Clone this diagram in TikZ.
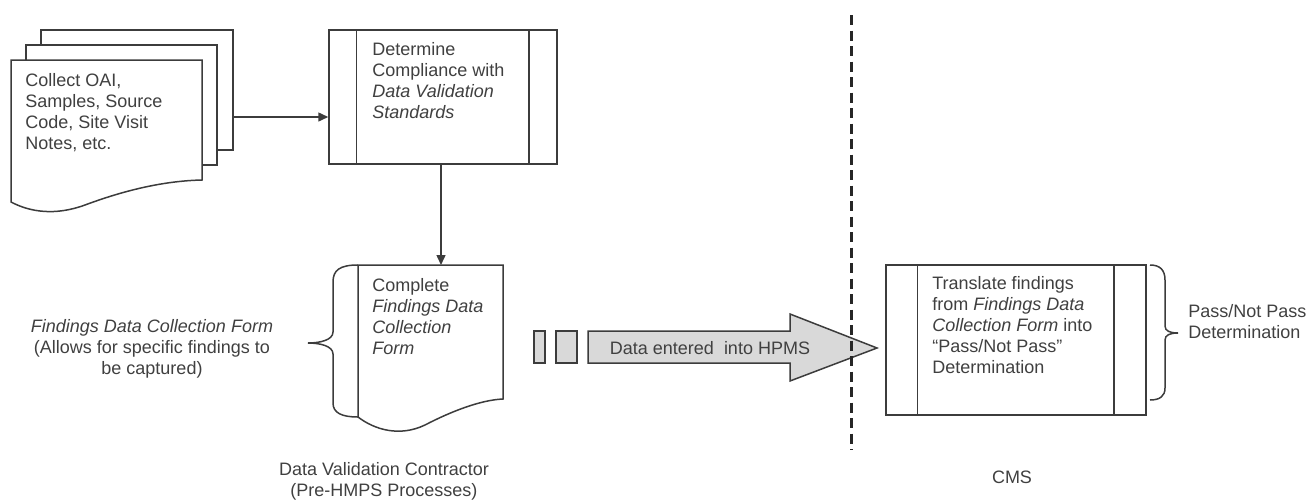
\documentclass[tikz,border=0pt]{standalone}
\usepackage{fontspec}
\setmainfont{Liberation Sans}
\usetikzlibrary{arrows.meta}
\definecolor{lc}{HTML}{3C3C3C}
\definecolor{tc}{HTML}{404040}
\definecolor{gfill}{HTML}{D9D9D9}
\begin{document}
\begin{tikzpicture}[x=0.5pt,y=-0.5pt,
  ln/.style={draw=lc, line width=0.75pt},
  txt/.style={text=tc, font=\fontsize{9}{10.5}\selectfont, inner sep=0pt, align=left},
  proc/.style={ln, fill=white, rectangle, inner sep=0pt},
  conn/.style={ln, -{Triangle[length=5pt,width=4.5pt]}},
  smallbox/.style={ln, fill=gfill, rectangle, inner sep=0pt, minimum height=16pt},
  divider/.style={draw=black!85, line width=1.5pt, dash pattern=on 5pt off 2.75pt}
]
\useasboundingbox (0,0) rectangle (1314,499);

% stacked documents
\path[ln, fill=white] (41,30) rectangle (233,150);
\path[ln, fill=white] (26,45) rectangle (217,165);
\path[ln, fill=white] (11,60) -- (202,60) -- (202,180)
  .. controls (160,181) and (120,192) .. (85,205)
  .. controls (55,216) and (30,212) .. (11,202) -- cycle;
\node[txt, anchor=north west] (stacktxt) at (25,73)
  {Collect OAI,\\Samples, Source\\Code, Site Visit\\Notes, etc.};
\coordinate (stackout) at (233,117);

% process 1
\node[proc, minimum width=114pt, minimum height=67pt] (p1) at (443,97) {};
\draw[ln] ([xshift=14pt]p1.north west) -- ([xshift=14pt]p1.south west);
\draw[ln] ([xshift=-14.5pt]p1.north east) -- ([xshift=-14.5pt]p1.south east);
\node[txt, anchor=north west] (p1txt) at (372,42)
  {Determine\\Compliance with\\\textit{Data Validation}\\\textit{Standards}};
\draw[conn] (stackout) -- (stackout -| p1.west);

% document 2
\path[ln, fill=white] (358,265) -- (503,265) -- (503,399)
  .. controls (480,400) and (450,412) .. (425,425)
  .. controls (400,437) and (375,430) .. (358,417) -- cycle;
\coordinate (d2top) at (441,265);
\draw[conn] (d2top |- p1.south) -- (d2top);
\draw[ln] (358,265) .. controls (340,265) and (333,270) .. (333,282)
  -- (333,332) .. controls (333,340) and (320,343) .. (308,343)
  .. controls (320,343) and (333,346) .. (333,354)
  -- (333,403) .. controls (333,413) and (342,417) .. (358,417);
\node[txt, anchor=north west] (d2txt) at (372,278)
  {Complete\\\textit{Findings Data}\\\textit{Collection}\\\textit{Form}};
\node[txt, align=center] (ann) at (152,349)
  {\textit{Findings Data Collection Form}\\(Allows for specific findings to\\be captured)};
\node[txt, align=center] (dvc) at (384,481)
  {Data Validation Contractor\\(Pre-HMPS Processes)};

% small boxes and block arrow
\node[smallbox, minimum width=5.5pt] (r1) at (539.5,347) {};
\node[smallbox, minimum width=10.5pt] (r2) at (566.5,347) {};
\path[ln, fill=gfill] (588,331) -- (790,331) -- (790,314) -- (877,348)
  -- (790,381) -- (790,363) -- (588,363) -- cycle;
\node[txt] (hpms) at (710,348) {Data entered\ \ into HPMS};

% divider
\coordinate (dtop) at (851,15);
\coordinate (dbot) at (851,450);
\draw[divider] (dtop) -- (dbot);

% process 2
\node[proc, minimum width=130pt, minimum height=75pt] (p2) at (1016,340) {};
\draw[ln] ([xshift=16pt]p2.north west) -- ([xshift=16pt]p2.south west);
\draw[ln] ([xshift=-16.5pt]p2.north east) -- ([xshift=-16.5pt]p2.south east);
\node[txt, anchor=north west] (p2txt) at (932,276)
  {Translate findings\\from \textit{Findings Data}\\\textit{Collection Form} into\\``Pass/Not Pass''\\Determination};
\draw[ln] (1150,265) .. controls (1160,265) and (1165,270) .. (1165,280)
  -- (1165,326) .. controls (1165,331) and (1170,333) .. (1178,333)
  .. controls (1170,333) and (1165,335) .. (1165,340)
  -- (1165,388) .. controls (1165,396) and (1160,400) .. (1150,400);
\node[txt, anchor=north west] (passtxt) at (1188,304) {Pass/Not Pass\\Determination};
\node[txt, align=center] (cms) at (1012,477) {CMS};
\end{tikzpicture}
\end{document}
